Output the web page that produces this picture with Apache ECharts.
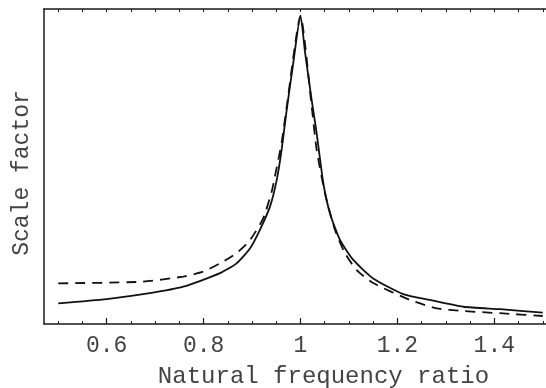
<!DOCTYPE html>
<html>
<head>
<meta charset="utf-8">
<script src="https://cdn.jsdelivr.net/npm/echarts@6/dist/echarts.min.js"></script>
<style>html,body{margin:0;padding:0;background:#fff}#c{width:546px;height:388px}</style>
</head>
<body>
<div id="c"></div>
<script>
// Natural frequency ratio (x) and scale factor (y, normalised to the peak)
const solidX = [0.50,0.60,0.689,0.758,0.834,0.868,0.896,0.916,0.937,0.951,0.961,0.9715,0.9845,1.00,1.0093,1.0231,1.0334,1.0471,1.0609,1.0815,1.109,1.150,1.212,1.267,1.336,1.412,1.50];
const solidY = [0.067,0.081,0.100,0.121,0.165,0.197,0.246,0.305,0.381,0.468,0.565,0.695,0.841,1.00,0.883,0.727,0.619,0.457,0.359,0.273,0.208,0.148,0.097,0.078,0.056,0.048,0.037];
const dashX = [0.50,0.669,0.758,0.799,0.834,0.868,0.896,0.923,0.9406,0.947,0.961,0.972,1.00,1.0231,1.0334,1.0506,1.0712,1.0918,1.116,1.150,1.226,1.281,1.336,1.412,1.50];
const dashY = [0.132,0.137,0.154,0.170,0.197,0.230,0.273,0.343,0.430,0.478,0.588,0.711,1.00,0.706,0.565,0.424,0.305,0.230,0.175,0.133,0.078,0.051,0.042,0.035,0.026];
const majorTicks = [0.6,0.8,1.0,1.2,1.4];
const minorTicks = [0.5,0.55,0.65,0.7,0.75,0.85,0.9,0.95,1.05,1.1,1.15,1.25,1.3,1.35,1.45,1.5];
const allTicks = [0.5,0.55,0.6,0.65,0.7,0.75,0.8,0.85,0.9,0.95,1.0,1.05,1.1,1.15,1.2,1.25,1.3,1.35,1.4,1.45,1.5];
const xTitle = 'Natural frequency ratio';
const yTitle = 'Scale factor';

const font = "'Liberation Mono', 'DejaVu Sans Mono', monospace";
const XMIN = 0.4706, XMAX = 1.5067;
const lineCol = '#1a1a1a';
const textCol = '#444';

const chart = echarts.init(document.getElementById('c'));
chart.setOption({
  animation: false,
  backgroundColor: '#fff',
  grid: {left: 44, right: 0, top: 9, bottom: 64, containLabel: false},
  xAxis: [
    {type: 'value', min: XMIN, max: XMAX, position: 'bottom',
     axisLine: {show: true, lineStyle: {color: lineCol, width: 1.5}},
     axisTick: {show: true, inside: true, length: 6, customValues: majorTicks, lineStyle: {color: lineCol, width: 1.2}},
     axisLabel: {show: true, customValues: majorTicks, margin: 10, fontFamily: font, fontSize: 23, color: textCol,
       formatter: v => (Math.abs(v - 1) < 1e-9 ? '1' : String(Math.round(v * 10) / 10))},
     splitLine: {show: false}},
    {type: 'value', min: XMIN, max: XMAX, position: 'bottom', gridIndex: 0,
     axisLine: {show: false},
     axisTick: {show: true, inside: true, length: 3, customValues: minorTicks, lineStyle: {color: lineCol, width: 1}},
     axisLabel: {show: false}, splitLine: {show: false}},
    {type: 'value', min: XMIN, max: XMAX, position: 'top', gridIndex: 0,
     axisLine: {show: true, lineStyle: {color: lineCol, width: 1.5}},
     axisTick: {show: true, inside: true, length: 3, customValues: allTicks, lineStyle: {color: lineCol, width: 1}},
     axisLabel: {show: false}, splitLine: {show: false}}
  ],
  yAxis: [
    {type: 'value', min: 0, max: 1.0227, position: 'left',
     axisLine: {show: true, lineStyle: {color: lineCol, width: 1.5}},
     axisTick: {show: false}, axisLabel: {show: false}, splitLine: {show: false}}
  ],
  series: [
    {type: 'line', xAxisIndex: 0, yAxisIndex: 0, showSymbol: false, symbol: 'none', smooth: 0.2,
     data: solidX.map((x, i) => [x, solidY[i]]),
     lineStyle: {color: '#111', width: 1.8}},
    {type: 'line', xAxisIndex: 0, yAxisIndex: 0, showSymbol: false, symbol: 'none', smooth: 0.2,
     data: dashX.map((x, i) => [x, dashY[i]]),
     lineStyle: {color: '#111', width: 1.8, type: [10, 7]}}
  ],
  graphic: [
    {type: 'text', x: 323.5, y: 377,
     style: {text: xTitle, fontFamily: font, fontSize: 24, fill: textCol, align: 'center', verticalAlign: 'middle'}},
    {type: 'text', x: 22, y: 173, rotation: Math.PI / 2,
     style: {text: yTitle, fontFamily: font, fontSize: 23, fill: textCol, align: 'center', verticalAlign: 'middle'}}
  ]
});
</script>
</body>
</html>
